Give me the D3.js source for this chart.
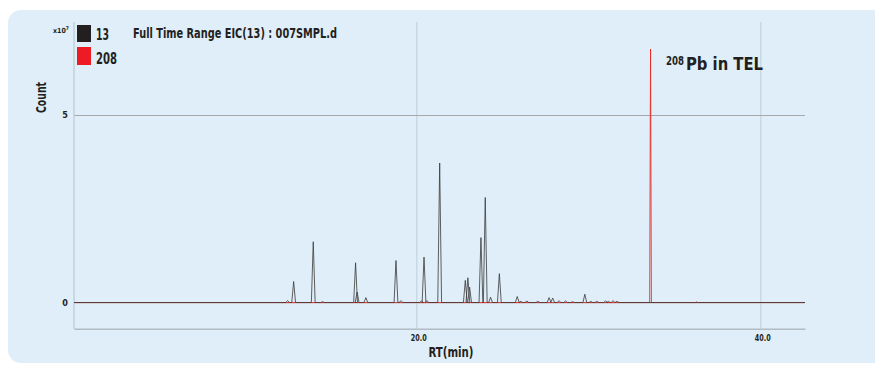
<!DOCTYPE html>
<html>
<head>
<meta charset="utf-8">
<script src="https://cdn.jsdelivr.net/npm/d3@7"></script>
<style>
  body { margin: 0; background: #fff; }
  text { font-family: "Liberation Sans Narrow", "DejaVu Sans Condensed", "Liberation Sans", sans-serif; font-weight: bold; fill: #231f20; }
</style>
</head>
<body>
<script>
// EIC(13) peaks: retention time (min) and apex count (x10^7)
var rt13    = [12.52, 12.87, 14.01, 14.55, 16.47, 16.56, 17.07, 18.82, 19.11, 20.30, 20.45, 20.62,
               21.36, 22.85, 23.00, 23.10, 23.76, 24.01, 24.32, 24.83, 25.87, 26.08, 26.43, 27.07,
               27.72, 27.93, 28.30, 28.68, 29.09, 29.80, 30.15, 30.50, 31.00, 31.17, 31.44, 31.67];
var count13 = [0.05, 0.56, 1.62, 0.02, 1.06, 0.28, 0.13, 1.12, 0.05, 0.04, 1.21, 0.05,
               3.72, 0.59, 0.66, 0.41, 1.73, 2.80, 0.14, 0.77, 0.16, 0.03, 0.04, 0.03,
               0.13, 0.12, 0.05, 0.04, 0.02, 0.22, 0.03, 0.03, 0.04, 0.03, 0.05, 0.03];
// EIC(208) peaks
var rt208    = [33.62, 36.30];
var count208 = [6.76, 0.02];

var rtRange = [0.1, 42.6];
var yTicks = [0, 5];
var xTicks = [20, 40];

var W = 875, H = 366;
var svg = d3.select("body").append("svg").attr("width", W).attr("height", H);

svg.append("rect")
   .attr("x", 8).attr("y", 10)
   .attr("width", 900).attr("height", 353)
   .attr("rx", 13)
   .attr("fill", "#dfeef8");

var x = d3.scaleLinear().domain(rtRange).range([74, 805]);
var y = d3.scaleLinear().domain([-0.7, 7.48]).range([328.75, 22]);

// vertical grid
svg.append("g")
   .attr("transform", "translate(0,22)")
   .call(d3.axisBottom(x).tickValues(xTicks).tickSize(306.5).tickFormat(""))
   .call(function(g) {
     g.select(".domain").remove();
     g.selectAll("line").attr("stroke", "#c6d4dd").attr("stroke-width", 1.2);
   });

// horizontal grid + y labels
svg.append("g")
   .attr("transform", "translate(74,0)")
   .call(d3.axisLeft(y).tickValues(yTicks).tickSize(0).tickPadding(6).tickFormat(d3.format("d")))
   .call(function(g) {
     g.select(".domain").remove();
     g.selectAll("text").attr("font-size", 9).style("font-family", null);
   })
   .selectAll(".tick").append("line")
   .attr("x2", 731)
   .attr("stroke", function(d) { return d === 0 ? "#c9b0b0" : "#a3a9ae"; })
   .attr("stroke-width", 1.2);

// axis frame lines
svg.append("line").attr("x1", 74).attr("x2", 74).attr("y1", 22).attr("y2", 329)
   .attr("stroke", "#bfcad2").attr("stroke-width", 1.2);
svg.append("g")
   .attr("transform", "translate(0,328.75)")
   .call(d3.axisBottom(x).tickValues(xTicks).tickSize(0).tickPadding(6).tickFormat(d3.format(".1f")))
   .call(function(g) {
     g.select(".domain").attr("stroke", "#b3bcc3").attr("stroke-width", 1.5);
     g.selectAll("text").attr("font-size", 9).style("font-family", null).attr("dx", 2)
      .attr("textLength", 16).attr("lengthAdjust", "spacingAndGlyphs");
   });

function tracePoints(rts, counts, hw) {
  var pts = [[rtRange[0], 0]];
  rts.forEach(function(t, i) {
    pts.push([t - hw, 0], [t, counts[i]], [t + hw, 0]);
  });
  pts.push([rtRange[1], 0]);
  return pts;
}

var line = d3.line().x(function(d) { return x(d[0]); }).y(function(d) { return y(d[1]); });

svg.append("path")
   .attr("d", line(tracePoints(rt208, count208, 0.05)))
   .attr("fill", "none")
   .attr("stroke", "#e8261f")
   .attr("stroke-width", 1)
   .attr("stroke-opacity", 0.85);

svg.append("path")
   .attr("d", line(tracePoints(rt13, count13, 0.11)))
   .attr("fill", "none")
   .attr("stroke", "#3a3a3a")
   .attr("stroke-width", 1)
   .attr("stroke-opacity", 0.8);

function label(xp, yp, size, str, len) {
  return svg.append("text").attr("x", xp).attr("y", yp).attr("font-size", size)
            .attr("textLength", len).attr("lengthAdjust", "spacingAndGlyphs").text(str);
}

// legend
svg.append("rect").attr("x", 77).attr("y", 25).attr("width", 14).attr("height", 17).attr("fill", "#231f20");
svg.append("rect").attr("x", 77).attr("y", 47).attr("width", 14).attr("height", 18).attr("fill", "#ed1c24");
label(96, 40, 15, "13", 13);
label(96, 63.5, 15, "208", 21);
label(133, 37.5, 14, "Full Time Range EIC(13) : 007SMPL.d", 204);

var xt = svg.append("text").attr("x", 53).attr("y", 33).attr("font-size", 7);
xt.append("tspan").text("x10");
xt.append("tspan").attr("dy", -3).attr("font-size", 5).text("7");

svg.append("text")
   .attr("transform", "translate(46,97.5) rotate(-90)")
   .attr("text-anchor", "middle")
   .attr("font-size", 13.5)
   .attr("textLength", 31).attr("lengthAdjust", "spacingAndGlyphs")
   .text("Count");

svg.append("text")
   .attr("x", 451).attr("y", 356.5)
   .attr("text-anchor", "middle")
   .attr("font-size", 14)
   .attr("textLength", 45).attr("lengthAdjust", "spacingAndGlyphs")
   .text("RT(min)");

// annotation: superscript mass number, then element label
label(666, 64.5, 11.5, "208", 18);
label(686, 70, 18.5, "Pb in TEL", 77);
</script>
</body>
</html>
